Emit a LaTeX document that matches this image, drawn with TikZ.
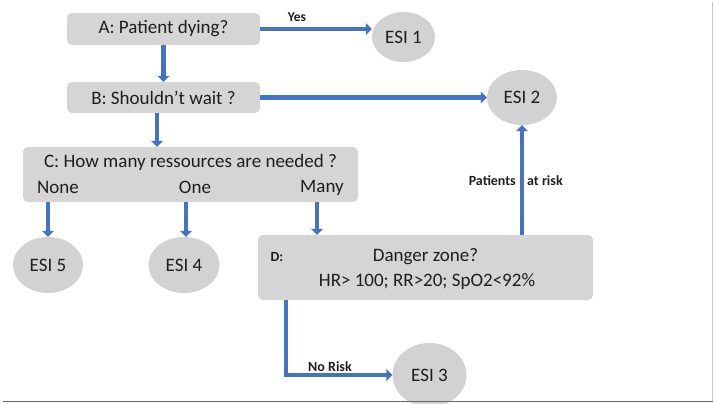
\documentclass[tikz,border=0pt]{standalone}
\usepackage{fontspec}
\setmainfont{Carlito}
\usetikzlibrary{arrows.meta,shapes.geometric}
\definecolor{arrowblue}{HTML}{4472C4}
\definecolor{boxgray}{HTML}{D5D5D5}
\definecolor{ovalgray}{HTML}{D2D2D2}
\definecolor{txt}{HTML}{1E1E1E}
\tikzset{
  qbox/.style={rectangle, rounded corners=5pt, fill=boxgray, draw=none, inner sep=0pt,
    text=txt, font=\fontsize{19}{22}\selectfont},
  esi/.style={ellipse, fill=ovalgray, draw=none, inner sep=0pt,
    text=txt, font=\fontsize{19}{22}\selectfont},
  plain/.style={inner sep=0pt, text=txt, font=\fontsize{19}{22}\selectfont},
  blabel/.style={inner sep=0pt, text=txt, font=\bfseries\fontsize{13.5}{16}\selectfont},
  conn/.style={draw=arrowblue, line width=4.4pt, line join=miter,
    -{Triangle[width=12pt,length=6pt]}},
  frame/.style={line width=1.5pt, draw=#1}
}
\begin{document}
\begin{tikzpicture}[x=1pt,y=-1pt]
\useasboundingbox (0,0) rectangle (713,404);
\clip (0,0) rectangle (713,404);
% boxes
\node[qbox, minimum width=193pt, minimum height=32pt] (A) at (163.5,29) {A: Patient dying?};
\node[qbox, minimum width=193pt, minimum height=31pt] (B) at (163.5,97.5) {B: Shouldn’t wait ?};
\node[qbox, minimum width=335pt, minimum height=55pt] (C) at (190.5,174.5) {};
\node[plain] (Ct) at (190.5,162) {C: How many ressources are needed ?};
\node[plain] (Cn) at (58,187.5) {None};
\node[plain] (Co) at (195,187.5) {One};
\node[plain] (Cm) at (322,187.5) {Many};
\node[qbox, minimum width=335pt, minimum height=65pt] (D) at (425.5,267.5) {};
\node[plain] (Dt) at (425.5,257) {Danger zone?};
\node[plain] (Dv) at (427,281.5) {HR> 100; RR>20; SpO2<92\%};
\node[blabel, font=\bfseries\fontsize{14}{16}\selectfont] (Dl) at (277,257.5) {D:};
% ellipses
\node[esi, minimum width=63pt, minimum height=50pt] (e1) at (403.5,37) {ESI 1};
\node[esi, minimum width=70pt, minimum height=55pt] (e2) at (522,97.5) {ESI 2};
\node[esi, minimum width=70pt, minimum height=56pt] (e5) at (48,265) {ESI 5};
\node[esi, minimum width=71pt, minimum height=56pt] (e4) at (184,265) {ESI 4};
\node[esi, minimum width=74pt, minimum height=64pt] (e3) at (429.5,375) {ESI 3};
% helper coordinates
\coordinate (bx) at (157,0);
\coordinate (mx) at (317,0);
\coordinate (dx) at (286,0);
\coordinate (ox) at (186,0);
% connectors
\draw[conn] (A.east) -- (A.east -| e1.west);
\draw[conn] (A.south) -- (B.north);
\draw[conn] (B.east) -- (e2.west);
\draw[conn] (bx |- B.south) -- (bx |- C.north);
\draw[conn] (e5.north |- C.south) -- (e5.north);
\draw[conn] (ox |- C.south) -- (ox |- e4.north);
\draw[conn] (mx |- C.south) -- (mx |- D.north);
\draw[conn] (e2.south |- D.north) -- (e2.south);
\draw[conn] (dx |- D.south) |- (e3.west);
% labels
\node[blabel] (yes) at (297,17) {Yes};
\node[blabel, font=\bfseries\fontsize{14}{16}\selectfont] (nr) at (330,367) {No Risk};
\node[blabel, font=\bfseries\fontsize{14}{16}\selectfont, anchor=east] (pa) at (516,181) {Patients};
\node[blabel, font=\bfseries\fontsize{14}{16}\selectfont, anchor=west] (ar) at (527,181) {at risk};
% screenshot edges
\draw[line width=1pt, draw=black!22] (712.5,2) -- (712.5,401);
\draw[line width=1.6pt, draw=black!60] (3,401.5) -- (713,401.5);
\end{tikzpicture}
\end{document}
